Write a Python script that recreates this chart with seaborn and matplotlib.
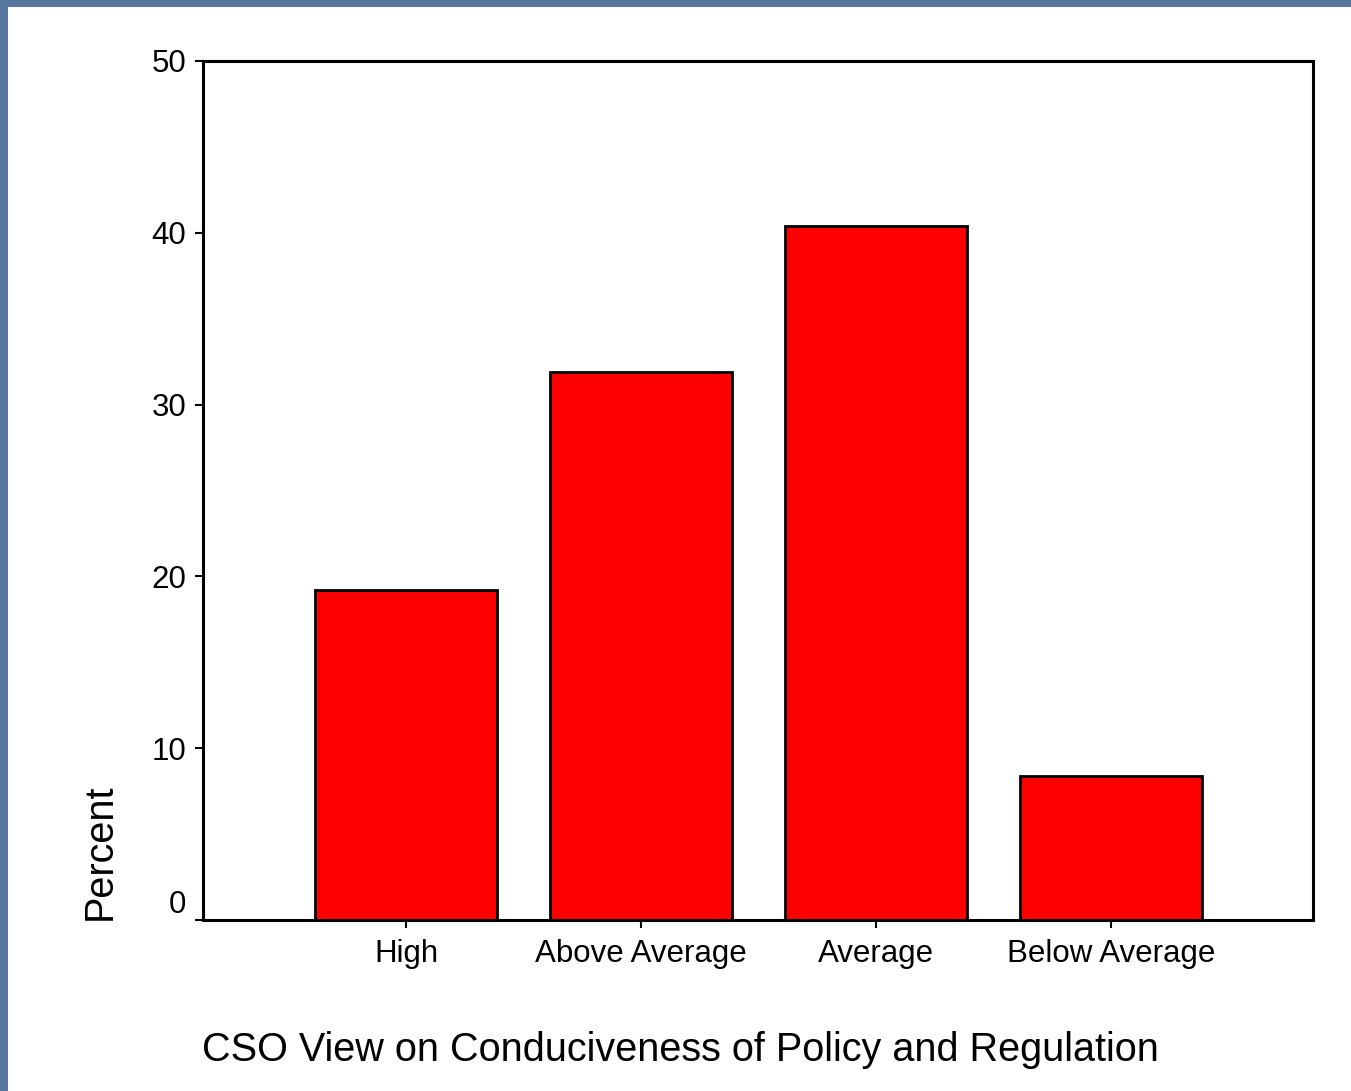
"""
Bar chart of CSO views on conduciveness of policy and regulation.
"""

import pandas as pd
import matplotlib.pyplot as plt
import seaborn as sns
from matplotlib.patches import Rectangle

# Data
CATEGORIES = ["High", "Above Average", "Average", "Below Average"]
PERCENTS = [19.2, 31.9, 40.4, 8.4]
Y_TICKS = [0, 10, 20, 30, 40, 50]

W, H = 1351, 1091
BORDER_BLUE = "#5676a0"

sns.set_theme(style="white")
plt.rcParams["font.family"] = ["Liberation Sans", "DejaVu Sans"]
plt.rcParams["text.color"] = "black"


def main():
    df = pd.DataFrame({"category": CATEGORIES, "percent": PERCENTS})

    fig = plt.figure(figsize=(W / 100, H / 100), dpi=100)
    fig.patch.set_facecolor("white")

    # blue slide border on the left and top
    fig.patches.append(Rectangle((0, 0), 8 / W, 1, transform=fig.transFigure,
                                 facecolor=BORDER_BLUE, edgecolor="none", zorder=0))
    fig.patches.append(Rectangle((0, 1 - 7 / H), 1, 7 / H, transform=fig.transFigure,
                                 facecolor=BORDER_BLUE, edgecolor="none", zorder=0))

    ax = fig.add_axes([203 / W, 1 - 920 / H, (1313 - 203) / W, (920 - 61) / H])
    sns.barplot(data=df, x="category", y="percent", color="#ff0000",
                saturation=1, edgecolor="black", linewidth=2, width=0.775, ax=ax)

    ax.set_xlim(-0.864, 3.86)
    ax.set_ylim(0, 50)
    ax.set_yticks(Y_TICKS)
    ax.set_xlabel(None)
    ax.set_ylabel(None)

    for spine in ax.spines.values():
        spine.set_visible(True)
        spine.set_color("black")
        spine.set_linewidth(2.2)

    ax.tick_params(axis="both", direction="out", length=6, width=1.5,
                   colors="black", labelcolor="black", labelsize=22.5,
                   left=True, bottom=True)
    ax.tick_params(axis="y", pad=6)
    ax.tick_params(axis="x", pad=8)
    ax.get_yticklabels()[0].set_va("bottom")

    ax.text(-103 / 1110, 0, "Percent", transform=ax.transAxes, rotation=90,
            ha="center", va="bottom", fontsize=28.5, color="black")
    fig.text(202 / W, 1 - 1050 / H, "CSO View on Conduciveness of Policy and Regulation",
             ha="left", va="center", fontsize=28.5, color="black")

    fig.savefig("out.png", dpi=100, facecolor="white")


if __name__ == "__main__":
    main()
